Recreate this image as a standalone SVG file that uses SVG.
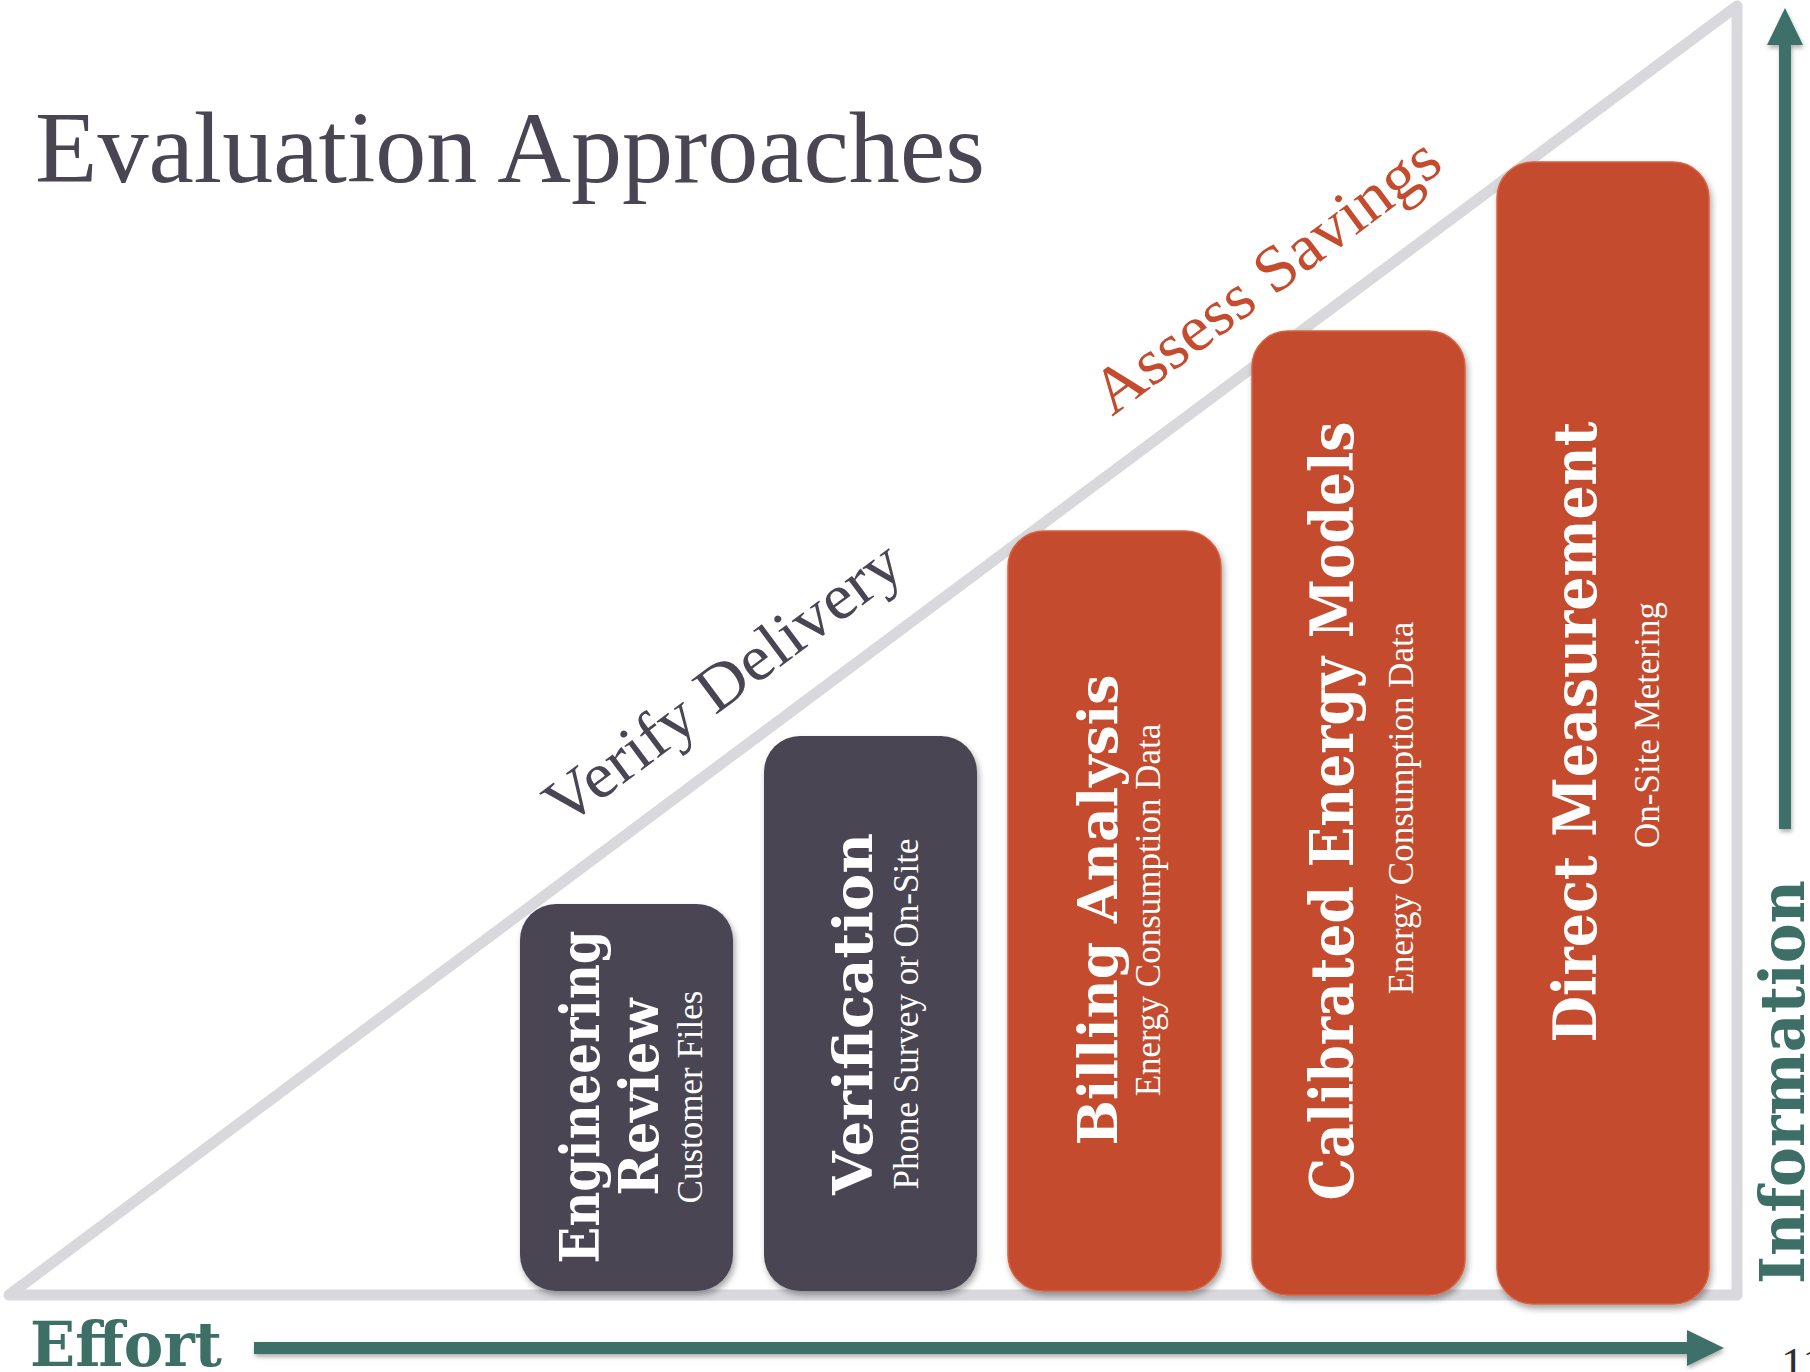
<svg xmlns="http://www.w3.org/2000/svg" width="1810" height="1372" viewBox="0 0 1810 1372">
<defs>
<filter id="sh" x="-10%" y="-10%" width="120%" height="120%">
<feDropShadow dx="2" dy="4" stdDeviation="3" flood-color="#000" flood-opacity="0.35"/>
</filter>
<filter id="ash" filterUnits="userSpaceOnUse" x="0" y="0" width="1810" height="1372">
<feDropShadow dx="1" dy="3" stdDeviation="2" flood-color="#000" flood-opacity="0.3"/>
</filter>
<marker id="head" markerUnits="userSpaceOnUse" markerWidth="38" markerHeight="38" refX="1" refY="18" orient="auto" viewBox="0 0 38 36">
<path d="M0,0 L37,18 L0,36 Z" fill="#3e6f67"/>
</marker>
<style>
.frame{fill:none;stroke:#d9d8dd;stroke-width:11;stroke-linejoin:round;stroke-linecap:round}
.axis{fill:none;stroke:#3e6f67;stroke-width:12;marker-end:url(#head)}
.dark{fill:#4a4553}
.orange{fill:#c44b2d;stroke:#d6623f;stroke-width:1.5}
.main{font-family:"DejaVu Serif",serif;font-weight:bold;fill:#ffffff;text-anchor:middle}
.sub{font-family:"Liberation Serif",serif;fill:#ffffff;text-anchor:middle;font-size:35px}
.slope{font-family:"Liberation Serif",serif;font-size:65px}
.axislabel{font-family:"DejaVu Serif",serif;font-weight:bold;fill:#3e6f67;font-size:62px}
</style>
</defs>
<rect width="1810" height="1372" fill="#ffffff"/>
<g id="frame">
<path class="frame" d="M9,1295 L1737,6 L1737,1295 Z"/>
</g>
<g id="title">
<text x="35" y="182" font-family="Liberation Serif, serif" font-size="101" fill="#4a4553" textLength="950" lengthAdjust="spacingAndGlyphs">Evaluation Approaches</text>
</g>
<g id="label-verify">
<text class="slope" fill="#4a4553" transform="translate(564,828) rotate(-36.72)" textLength="428" lengthAdjust="spacingAndGlyphs">Verify Delivery</text>
</g>
<g id="label-assess">
<text class="slope" fill="#c44b2d" transform="translate(1112,417) rotate(-36.72)" textLength="416" lengthAdjust="spacingAndGlyphs">Assess Savings</text>
</g>
<g id="box-engineering-review">
<rect class="dark" x="520" y="904" width="213" height="387" rx="36" filter="url(#sh)"/>
<text class="main" font-size="55" transform="translate(599,1097) rotate(-90)" textLength="333" lengthAdjust="spacingAndGlyphs">Engineering</text>
<text class="main" font-size="55" transform="translate(658,1097) rotate(-90)" textLength="197" lengthAdjust="spacingAndGlyphs">Review</text>
<text class="sub" transform="translate(702,1097) rotate(-90)">Customer Files</text>
</g>
<g id="box-verification">
<rect class="dark" x="764" y="736" width="213" height="555" rx="36" filter="url(#sh)"/>
<text class="main" font-size="55" transform="translate(872,1014) rotate(-90)" textLength="362" lengthAdjust="spacingAndGlyphs">Verification</text>
<text class="sub" transform="translate(918,1014) rotate(-90)">Phone Survey or On-Site</text>
</g>
<g id="box-billing-analysis">
<rect class="orange" x="1008" y="531" width="213" height="760" rx="36" filter="url(#sh)"/>
<text class="main" font-size="55" transform="translate(1117,910) rotate(-90)" textLength="471" lengthAdjust="spacingAndGlyphs">Billing Analysis</text>
<text class="sub" transform="translate(1160,910) rotate(-90)">Energy Consumption Data</text>
</g>
<g id="box-calibrated-energy-models">
<rect class="orange" x="1252" y="331" width="213" height="964" rx="36" filter="url(#sh)"/>
<text class="main" font-size="60" transform="translate(1353,811) rotate(-90)" textLength="779" lengthAdjust="spacingAndGlyphs">Calibrated Energy Models</text>
<text class="sub" transform="translate(1413,808) rotate(-90)">Energy Consumption Data</text>
</g>
<g id="box-direct-measurement">
<rect class="orange" x="1497" y="162" width="212" height="1142" rx="36" filter="url(#sh)"/>
<text class="main" font-size="60" transform="translate(1596,732) rotate(-90)" textLength="621" lengthAdjust="spacingAndGlyphs">Direct Measurement</text>
<text class="sub" transform="translate(1659,725) rotate(-90)">On-Site Metering</text>
</g>
<g id="connectors" filter="url(#ash)">
<line class="axis" x1="254" y1="1348" x2="1688" y2="1348"/>
<line class="axis" x1="1785" y1="829" x2="1785" y2="44"/>
</g>
<g id="axis-effort">
<text class="axislabel" x="30" y="1366" textLength="192" lengthAdjust="spacingAndGlyphs">Effort</text>
</g>
<g id="axis-information">
<text class="axislabel" transform="translate(1804,1284) rotate(-90)" textLength="404" lengthAdjust="spacingAndGlyphs">Information</text>
</g>
<g id="page-number">
<text x="1781" y="1380" font-family="Liberation Serif, serif" font-size="46" fill="#2f2b36">11</text>
</g>
</svg>
